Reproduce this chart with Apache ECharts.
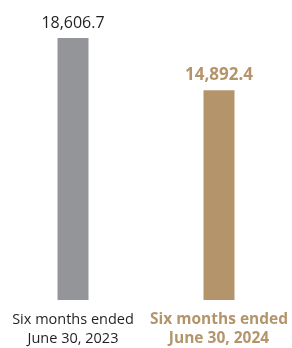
<!DOCTYPE html>
<html>
<head>
<meta charset="utf-8">
<script src="https://cdn.jsdelivr.net/npm/echarts@6/dist/echarts.min.js"></script>
<style>
html,body{margin:0;padding:0;background:#fff;}
#main{width:292px;height:348px;}
</style>
</head>
<body>
<div id="main"></div>
<script>
var categories = ['Six months ended\nJune 30, 2023', 'Six months ended\nJune 30, 2024'];
var values = [18606.7, 14892.4];
var barColors = ['#939598', '#b4956b'];
var labelColors = ['#231f20', '#b4956b'];

var chart = echarts.init(document.getElementById('main'));

var seriesData = [];
for (var i = 0; i < values.length; i++) {
	seriesData.push({
		value: values[i],
		itemStyle: {color: barColors[i]},
		label: {
			color: labelColors[i],
			fontWeight: i == 1 ? 'bold' : 'normal',
			fontSize: i == 1 ? 17 : 16
		}
	});
}

var option = {
	animation: false,
	grid: {left: 0, right: 0, top: 38, bottom: 44},
	xAxis: {
		type: 'category',
		data: categories,
		axisLine: {show: false},
		axisTick: {show: false},
		axisLabel: {
			interval: 0,
			hideOverlap: false,
			margin: 10,
			fontFamily: 'Open Sans',
			fontSize: 14.5,
			lineHeight: 19,
			color: '#231f20',
			formatter: function (v, idx) {
				return idx == 1 ? '{b|' + v.split('\n').join('}\n{b|') + '}' : v;
			},
			rich: {
				b: {fontFamily: 'Open Sans', fontSize: 15.5, lineHeight: 19, fontWeight: 'bold', color: '#b4956b'}
			}
		}
	},
	yAxis: {
		type: 'value',
		min: 0,
		max: 18606.7,
		show: false,
		splitLine: {show: false}
	},
	series: [{
		type: 'bar',
		barWidth: 31,
		data: seriesData,
		label: {
			show: true,
			position: 'top',
			distance: 7,
			fontFamily: 'Open Sans',
			formatter: function (p) {
				return p.value.toLocaleString('en-US', {minimumFractionDigits: 1, maximumFractionDigits: 1});
			}
		}
	}]
};
chart.setOption(option);
</script>
</body>
</html>
